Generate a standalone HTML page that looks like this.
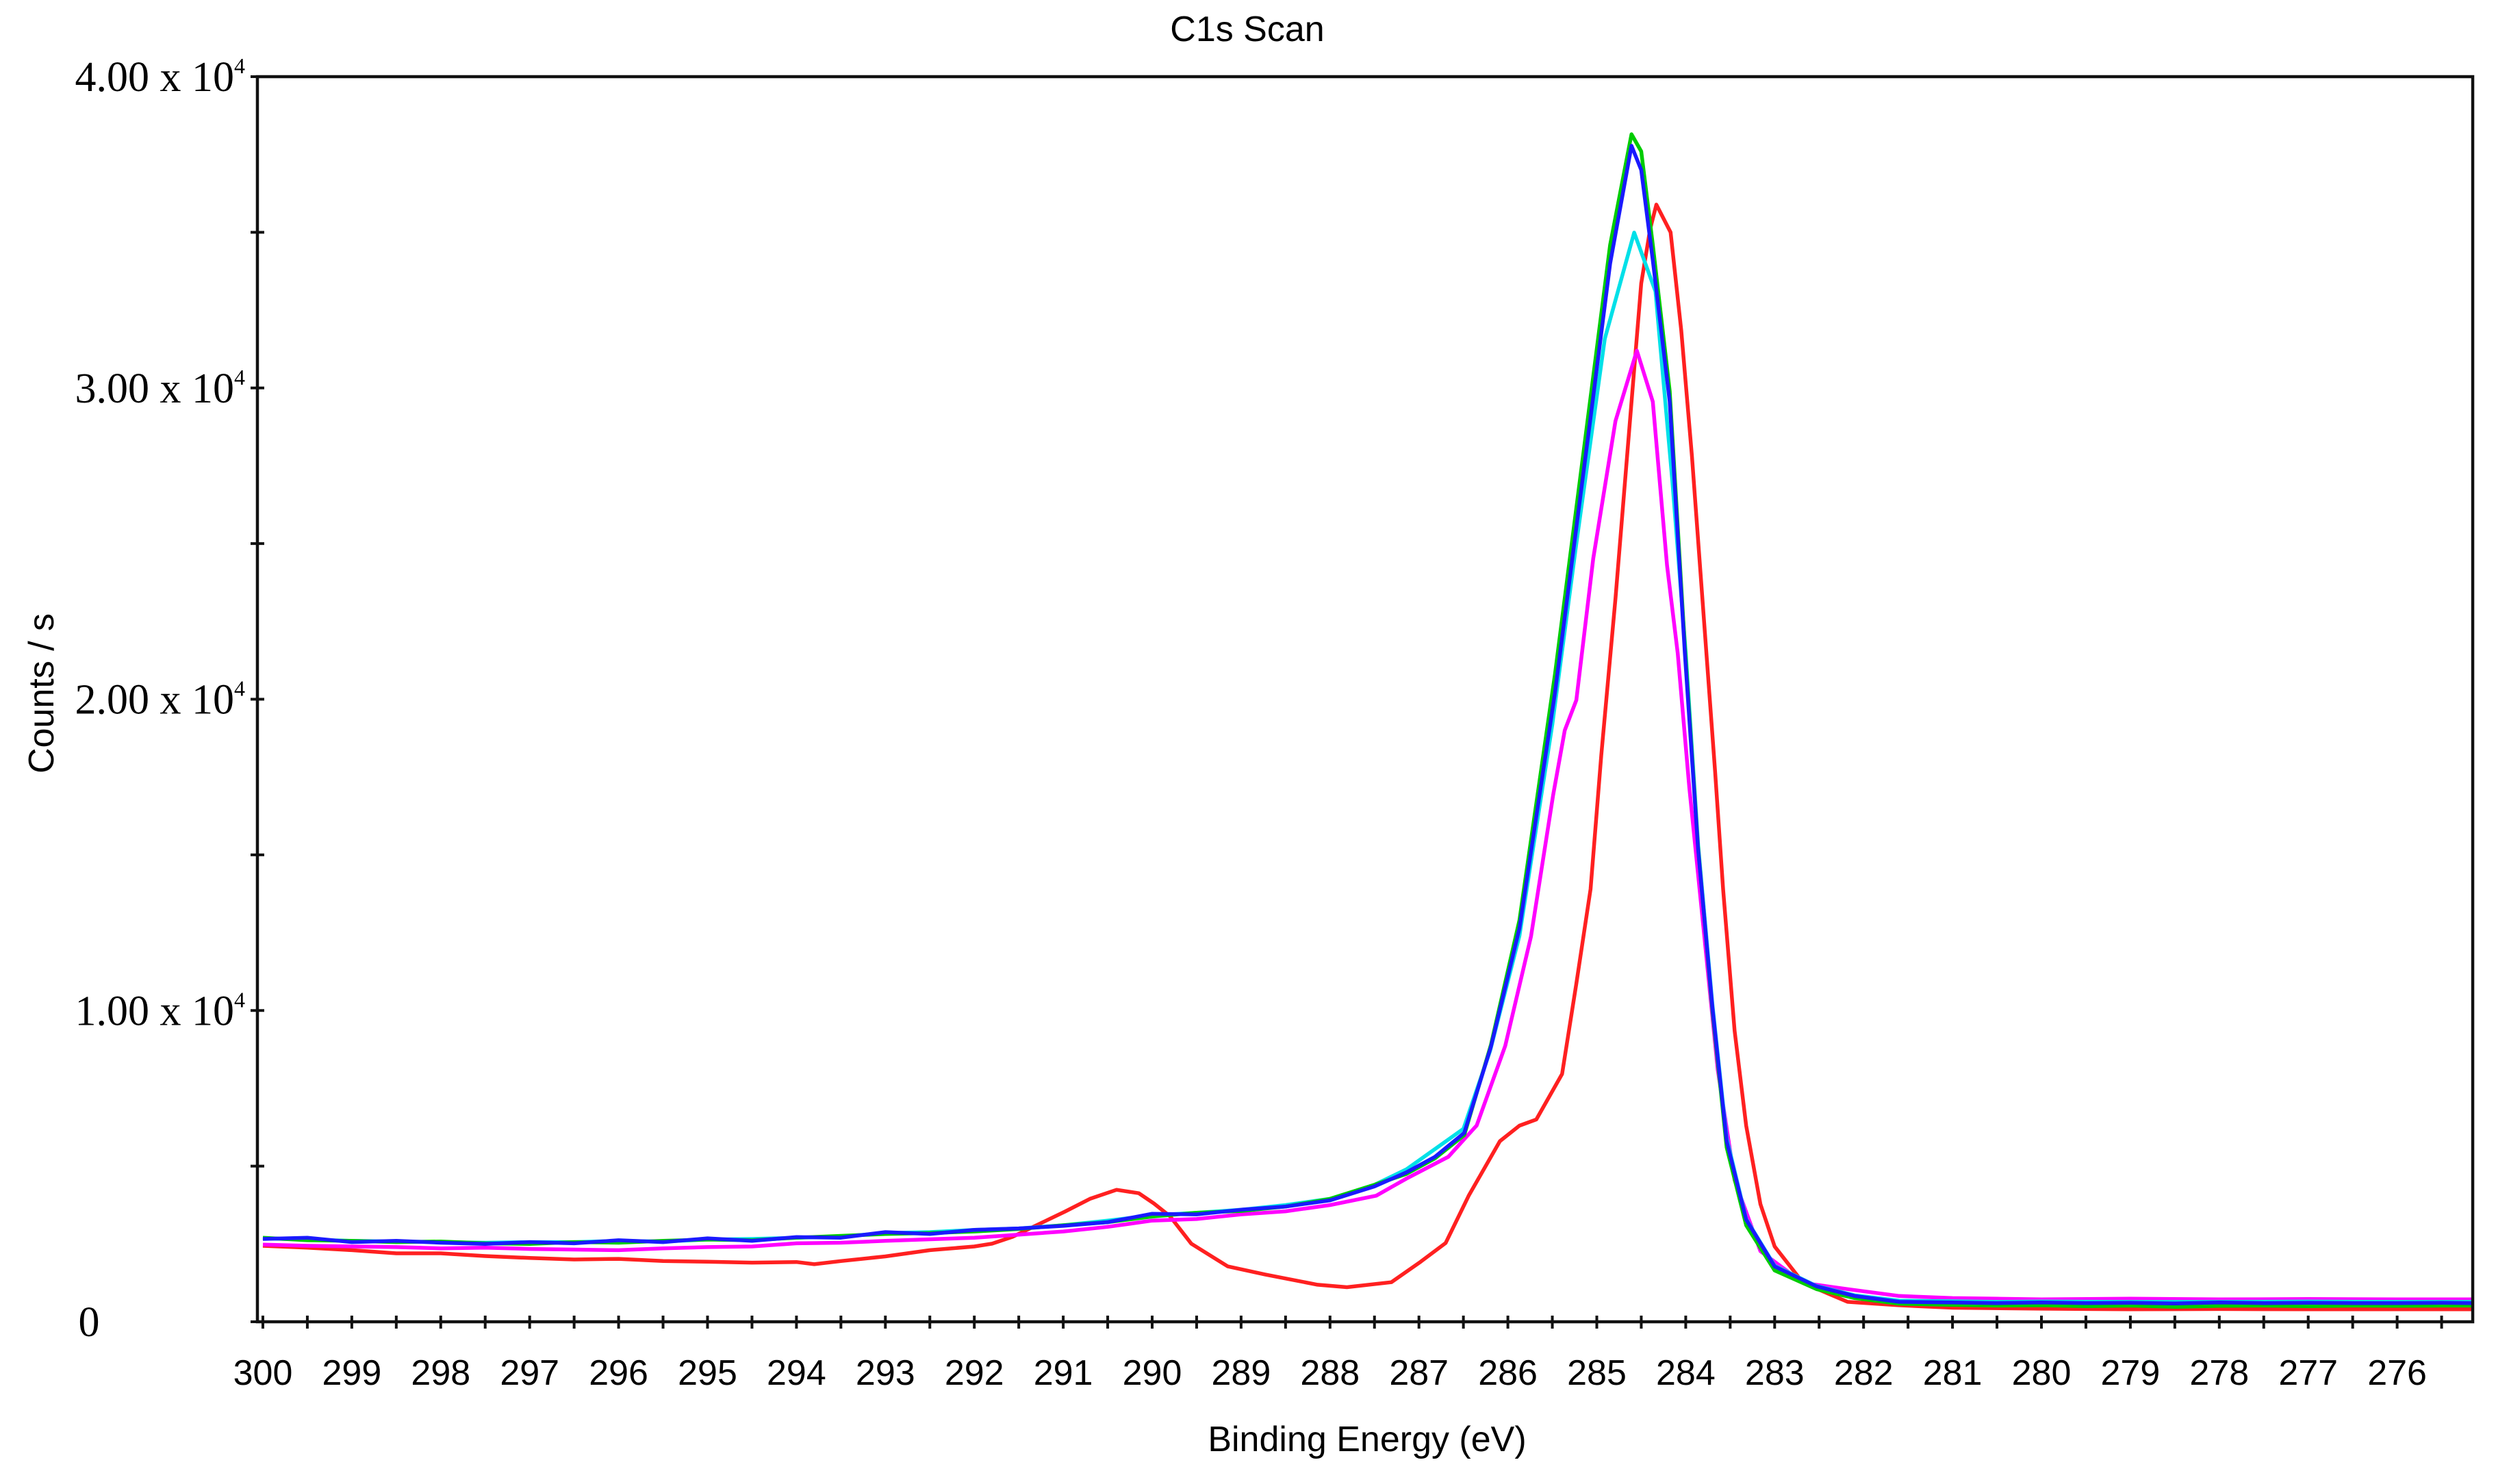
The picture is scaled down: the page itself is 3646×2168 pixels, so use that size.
<!DOCTYPE html>
<html><head><meta charset="utf-8">
<style>
html,body{margin:0;padding:0;background:#fff;}
svg{display:block;}
</style></head>
<body>
<svg id="chart" width="3646" height="2168" viewBox="0 0 3646 2168" xmlns="http://www.w3.org/2000/svg">
<rect x="0" y="0" width="3646" height="2168" fill="#fff"/>
<text x="1822" y="60" font-family="Liberation Sans, sans-serif" font-size="52" text-anchor="middle">C1s Scan</text>
<text transform="translate(78,1013) rotate(-90)" font-family="Liberation Sans, sans-serif" font-size="52" text-anchor="middle">Counts / s</text>
<text x="1997" y="2120" font-family="Liberation Sans, sans-serif" font-size="52" text-anchor="middle">Binding Energy (eV)</text>
<g id="series"></g>
<g id="axes"></g>
</svg>
<script>
// ---- data ----
const xTicks = [300,299,298,297,296,295,294,293,292,291,290,289,288,287,286,285,284,283,282,281,280,279,278,277,276];
const yTicks = [0,10000,20000,30000,40000];
const yTickLabels = ["0","1.00 x 10","2.00 x 10","3.00 x 10","4.00 x 10"];

const blueE = [300,299.5,299,298.5,298,297.5,297,296.5,296,295.5,295,294.5,294,293.5,293,292.5,292,291.5,291,290.5,290,289.5,289,288.5,288,287.5,287.14,286.82,286.49,286.19,285.87,285.47,285.07,284.85,284.61,284.5,284.37,284.18,284.01,283.86,283.7,283.54,283.32,283,282.53,282.1,281.6,281,280.5,280,279.5,279,278.5,278,277.5,277,276.5,276,275.5,275.16];
const blueC = [2660,2700,2560,2600,2540,2500,2560,2520,2620,2560,2680,2600,2720,2700,2880,2820,2950,3000,3080,3200,3470,3450,3600,3700,3900,4350,4800,5300,6070,8840,12640,20200,29050,34000,37780,37000,34100,29560,21480,15150,10100,5800,3280,1780,1140,830,640,620,600,620,600,610,590,620,600,610,600,600,610,600];

const greenE = blueE;
const greenC = [2700,2620,2600,2560,2580,2520,2500,2560,2540,2600,2640,2620,2700,2760,2820,2850,2900,2980,3100,3200,3380,3500,3560,3700,3950,4400,4750,5250,6000,8900,12900,20800,29700,34600,38150,37600,34600,29900,21700,15200,10000,5600,3100,1650,1050,760,580,540,520,530,500,520,480,510,520,500,520,510,520,520];

const cyanE = [300,299.5,299,298.5,298,297.5,297,296.5,296,295.5,295,294.5,294,293.5,293,292.5,292,291.5,291,290.5,290,289.5,289,288.5,288,287.5,287.14,286.5,286.2,285.87,285.5,285.23,284.91,284.58,284.34,284.15,284.0,283.86,283.7,283.54,283.32,283,282.53,282.1,281.6,281,280.5,280,279,278,277,276,275.16];
const cyanC = [2680,2640,2600,2580,2560,2540,2560,2560,2600,2580,2640,2660,2700,2740,2850,2880,2950,3000,3100,3250,3420,3500,3600,3750,3950,4400,4900,6200,8700,12400,19200,25000,31580,34990,33100,27000,21500,15300,10200,5900,3300,1800,1150,850,680,660,640,650,640,640,650,640,640];

const magentaE = [300,299.5,299,298.5,298,297.5,297,296.5,296,295.5,295,294.5,294,293.5,293,292.5,292,291.5,291,290.5,290,289.5,289,288.5,288,287.48,287.14,286.67,286.35,286.03,285.74,285.49,285.36,285.23,285.04,284.79,284.55,284.37,284.21,284.09,283.96,283.8,283.64,283.45,283.16,282.68,282.18,281.6,281,280.5,280,279,278,277,276,275.16];
const magentaC = [2480,2440,2420,2400,2360,2380,2340,2320,2300,2360,2400,2420,2520,2540,2600,2650,2700,2800,2900,3050,3250,3300,3450,3550,3750,4050,4600,5300,6310,8860,12380,16930,19000,19970,24520,28940,31200,29560,24300,21480,17170,12640,8090,4550,2270,1250,1050,830,760,740,720,740,720,730,720,720];

const redE = [300,299.5,299,298.5,298,297.5,297,296.5,296,295.5,295,294.5,294,293.8,293.5,293,292.5,292,291.8,291.57,291.3,290.98,290.7,290.4,290.15,289.98,289.8,289.56,289.15,288.73,288.14,287.81,287.31,286.98,286.7,286.44,286.09,285.87,285.68,285.39,285.23,285.07,284.95,284.79,284.66,284.5,284.4,284.33,284.17,284.05,283.93,283.8,283.67,283.58,283.45,283.32,283.16,283,282.68,282.18,281.6,281,280,279,278,277,276,275.16];
const redC = [2440,2380,2300,2200,2200,2110,2050,2000,2020,1950,1930,1900,1920,1850,1950,2100,2300,2420,2510,2730,3100,3540,3950,4240,4130,3800,3390,2510,1780,1520,1190,1110,1270,1930,2530,4050,5800,6300,6500,7960,10860,13900,18190,23240,27800,33360,35100,35890,35000,31840,27800,22740,17680,13900,9350,6300,3780,2420,1250,640,530,450,420,400,410,400,400,400];

// ---- scales ----
const X0 = 384, PX_PER_EV = 129.9, Y0 = 1931, YTOP = 112, YMAX = 40000, XR = 3612;
function sx(e){ return X0 + (300 - e) * PX_PER_EV; }
function sy(c){ return Y0 - c / YMAX * (Y0 - YTOP); }
const NS = "http://www.w3.org/2000/svg";
const seriesG = document.getElementById('series');
const axesG = document.getElementById('axes');

function drawSeries(E, C, color, name){
  const pts = E.map((e,i)=> sx(e).toFixed(1)+','+sy(C[i]).toFixed(1)).join(' ');
  const pl = document.createElementNS(NS,'polyline');
  pl.setAttribute('points', pts);
  pl.setAttribute('fill','none');
  pl.setAttribute('stroke',color);
  pl.setAttribute('stroke-width','5.5');
  pl.setAttribute('stroke-linejoin','round');
  
  
  seriesG.appendChild(pl);
}
drawSeries(redE, redC, '#ff2020', 'series-red');
drawSeries(magentaE, magentaC, '#ff00ff', 'series-magenta');
drawSeries(cyanE, cyanC, '#00e0e8', 'series-cyan');
drawSeries(greenE, greenC, '#00cc00', 'series-green');
drawSeries(blueE, blueC, '#1a1aff', 'series-blue');

// frame
const frame = document.createElementNS(NS,'rect');
frame.setAttribute('x', X0 - 8); frame.setAttribute('y', YTOP);
frame.setAttribute('width', XR - (X0 - 8)); frame.setAttribute('height', Y0 - YTOP);
frame.setAttribute('fill','none'); frame.setAttribute('stroke','#111'); frame.setAttribute('stroke-width','4.5');


axesG.appendChild(frame);

function line(x1,y1,x2,y2,w){
  const l = document.createElementNS(NS,'line');
  l.setAttribute('x1',x1); l.setAttribute('y1',y1); l.setAttribute('x2',x2); l.setAttribute('y2',y2);
  l.setAttribute('stroke','#111'); l.setAttribute('stroke-width',w);
  return l;
}
// x ticks (major + half-eV minor)
xTicks.forEach(v=>{
  [v, v-0.5].forEach(t=>{
    const x = sx(t);
    if (x > XR - 5) return;
    const tk = line(x, Y0-9, x, Y0+10, 4);
    
    
    axesG.appendChild(tk);
  });
  const tx = document.createElementNS(NS,'text');
  tx.setAttribute('x', sx(v)); tx.setAttribute('y', 2023);
  tx.setAttribute('text-anchor','middle');
  tx.setAttribute('font-family','Liberation Sans, sans-serif');
  tx.setAttribute('font-size','52');
  tx.textContent = v;
  
  
  axesG.appendChild(tx);
});
// y ticks
const YAX = X0 - 8;
for (let c = 0; c <= YMAX; c += 5000){
  const y = sy(c);
  const tk = line(YAX-10, y, YAX+10, y, 4);
  
  
  axesG.appendChild(tk);
}
yTicks.forEach((v,i)=>{
  const t = document.createElementNS(NS,'text');
  t.setAttribute('font-family','Liberation Serif, serif');
  t.setAttribute('font-size','62');
  if (v === 0){
    t.setAttribute('x', 130); t.setAttribute('y', sy(v)+21);
    t.setAttribute('text-anchor','middle');
    t.textContent = yTickLabels[i];
  } else {
    t.setAttribute('x', 358); t.setAttribute('y', sy(v)+21);
    t.setAttribute('text-anchor','end');
    t.textContent = yTickLabels[i];
    const sup = document.createElementNS(NS,'tspan');
    sup.setAttribute('font-size','32');
    sup.setAttribute('dy','-26');
    sup.textContent = '4';
    t.appendChild(sup);
  }
  
  
  axesG.appendChild(t);
});
</script>
</body></html>
